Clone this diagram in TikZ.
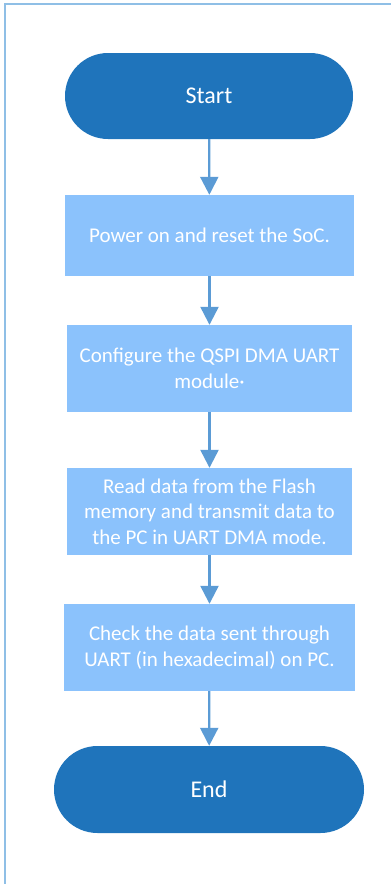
\documentclass[tikz,border=0pt]{standalone}
\usepackage{fontspec}
\setmainfont{Carlito}
\usetikzlibrary{arrows.meta,shapes.misc}
\definecolor{darkblue}{HTML}{1F74BB}
\definecolor{lightbox}{HTML}{8BC2FC}
\definecolor{arrowblue}{HTML}{5B9BD5}
\definecolor{frameblue}{HTML}{8FBFE6}
\tikzset{
  term/.style={rounded rectangle, fill=darkblue, draw=none, text=white, inner sep=0pt, font=\fontsize{24}{28}\selectfont},
  stepbox/.style={rectangle, fill=lightbox, draw=none, text=white, inner sep=0pt, align=center, font=\fontsize{21}{25.7}\selectfont},
  flow/.style={draw=arrowblue, line width=2.3pt, -{Triangle[width=18pt,length=18pt]}, arrowblue},
}
\begin{document}
\begin{tikzpicture}[x=1pt,y=1pt]
\useasboundingbox (0,0) rectangle (391,-884);
\draw[frameblue, line width=2pt] (5,-884) -- (5,-4) -- (391,-4);
\node[term, minimum width=288pt, minimum height=86pt] (start) at (209,-96) {Start};
\node[stepbox, minimum width=289pt, minimum height=81pt] (s1) at (209.5,-235.5) {Power on and reset the SoC.};
\node[stepbox, minimum width=285pt, minimum height=87pt] (s2) at (209.5,-368.5) {Configure the QSPI DMA UART\\module·};
\node[stepbox, minimum width=285pt, minimum height=87pt] (s3) at (209.5,-511.5) {Read data from the Flash\\memory and transmit data to\\the PC in UART DMA mode.};
\node[stepbox, minimum width=291pt, minimum height=87pt] (s4) at (209.5,-647.5) {Check the data sent through\\UART (in hexadecimal) on PC.};
\node[term, minimum width=310pt, minimum height=87pt] (end) at (209,-789.5) {End};
\draw[flow] (start) -- (s1);
\draw[flow] (s1) -- (s2);
\draw[flow] (s2) -- (s3);
\draw[flow] (s3) -- (s4);
\draw[flow] (s4) -- (end);
\end{tikzpicture}
\end{document}
